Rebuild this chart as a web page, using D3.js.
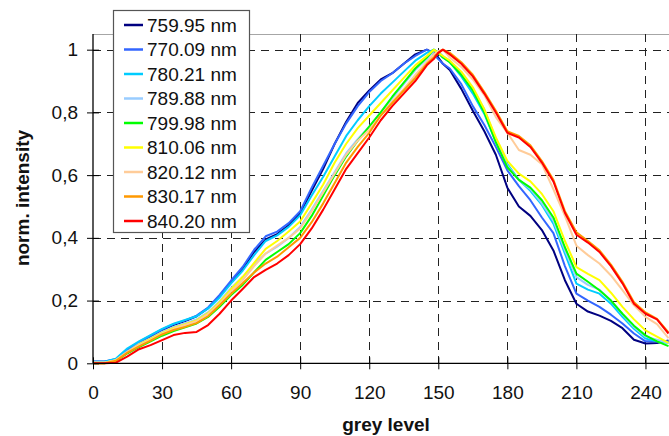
<!DOCTYPE html>
<html>
<head>
<meta charset="utf-8">
<script src="https://cdn.jsdelivr.net/npm/d3@7"></script>
<style>
   body { margin: 0; background: #fff; }
   svg { display: block; font-family: "Liberation Sans", Arial, sans-serif; }
</style>
</head>
<body>
<div id="chart"></div>
<script>
// grey level samples (x axis)
const greyLevels = [0, 5, 10, 15, 20, 25, 30, 35, 40, 45, 50, 55, 60, 65, 70, 75, 80, 85, 90, 95,
   100, 105, 110, 115, 120, 125, 130, 135, 140, 145, 148, 150, 152, 155, 160, 165, 170, 175, 180,
   185, 190, 195, 200, 205, 210, 215, 220, 225, 230, 235, 240, 245, 250];

const seriesNames = ["759.95 nm", "770.09 nm", "780.21 nm", "789.88 nm", "799.98 nm",
   "810.06 nm", "820.12 nm", "830.17 nm", "840.20 nm"];
const seriesColors = ["#000080", "#3366ff", "#00ccff", "#99ccff", "#00ff00",
   "#ffff00", "#ffcc99", "#ff9900", "#ff0000"];

const xTicks = [0, 30, 60, 90, 120, 150, 180, 210, 240];
const yTicks = [0, 0.2, 0.4, 0.6, 0.8, 1];
const yTickLabels = ["0", "0,2", "0,4", "0,6", "0,8", "1"];

// normalised intensity per wavelength
const int759 = [0.005, 0.005, 0.012, 0.04, 0.065, 0.085, 0.105, 0.122, 0.135, 0.15, 0.176, 0.214, 0.258, 0.3, 0.355, 0.395, 0.412, 0.44, 0.478, 0.55,
   0.62, 0.7, 0.77, 0.83, 0.87, 0.905, 0.925, 0.955, 0.985, 1.0, 0.99, 0.975, 0.955, 0.935, 0.875, 0.805, 0.74, 0.665, 0.56,
   0.5, 0.47, 0.425, 0.36, 0.265, 0.19, 0.165, 0.152, 0.135, 0.112, 0.075, 0.063, 0.065, 0.073];
const int770 = [0.006, 0.006, 0.014, 0.045, 0.068, 0.088, 0.108, 0.125, 0.137, 0.152, 0.178, 0.218, 0.264, 0.307, 0.362, 0.405, 0.42, 0.447, 0.485, 0.56,
   0.63, 0.7, 0.765, 0.82, 0.865, 0.9, 0.925, 0.955, 0.98, 1.0, 0.985, 0.97, 0.955, 0.94, 0.89, 0.82, 0.76, 0.69, 0.615,
   0.565, 0.52, 0.465, 0.415, 0.31, 0.222, 0.2, 0.18, 0.155, 0.127, 0.095, 0.07, 0.07, 0.07];
const int780 = [0.005, 0.005, 0.015, 0.048, 0.07, 0.09, 0.11, 0.126, 0.138, 0.15, 0.175, 0.21, 0.255, 0.295, 0.345, 0.39, 0.408, 0.435, 0.472, 0.535,
   0.595, 0.66, 0.725, 0.775, 0.82, 0.86, 0.895, 0.93, 0.965, 0.99, 1.0, 0.99, 0.975, 0.96, 0.915, 0.86, 0.795, 0.705, 0.635,
   0.585, 0.55, 0.505, 0.445, 0.35, 0.254, 0.235, 0.222, 0.19, 0.148, 0.11, 0.079, 0.07, 0.065];
const int789 = [0.003, 0.003, 0.01, 0.038, 0.062, 0.08, 0.1, 0.116, 0.128, 0.14, 0.163, 0.198, 0.24, 0.275, 0.315, 0.35, 0.372, 0.4, 0.435, 0.49,
   0.55, 0.61, 0.67, 0.715, 0.755, 0.8, 0.845, 0.89, 0.935, 0.97, 0.995, 0.995, 0.98, 0.965, 0.925, 0.875, 0.81, 0.715, 0.63,
   0.585, 0.555, 0.51, 0.455, 0.36, 0.275, 0.25, 0.235, 0.2, 0.155, 0.115, 0.085, 0.075, 0.065];
const int800 = [0.0, 0.0, 0.008, 0.032, 0.052, 0.07, 0.088, 0.103, 0.115, 0.127, 0.148, 0.18, 0.218, 0.25, 0.29, 0.33, 0.355, 0.38, 0.415, 0.47,
   0.535, 0.6, 0.66, 0.71, 0.755, 0.8, 0.85, 0.895, 0.94, 0.975, 1.0, 0.99, 0.975, 0.96, 0.92, 0.87, 0.8, 0.705, 0.625,
   0.585, 0.56, 0.52, 0.465, 0.37, 0.286, 0.26, 0.233, 0.2, 0.158, 0.12, 0.089, 0.07, 0.055];
const int810 = [0.002, 0.002, 0.01, 0.036, 0.06, 0.078, 0.097, 0.113, 0.125, 0.137, 0.16, 0.195, 0.236, 0.275, 0.32, 0.365, 0.39, 0.42, 0.452, 0.51,
   0.57, 0.64, 0.7, 0.75, 0.79, 0.83, 0.87, 0.91, 0.95, 0.98, 1.0, 0.99, 0.98, 0.965, 0.93, 0.88, 0.81, 0.72, 0.645,
   0.605, 0.58, 0.54, 0.485, 0.39, 0.307, 0.285, 0.265, 0.225, 0.18, 0.14, 0.105, 0.085, 0.065];
const int820 = [0.002, 0.002, 0.01, 0.036, 0.058, 0.075, 0.095, 0.11, 0.122, 0.134, 0.157, 0.19, 0.23, 0.265, 0.31, 0.35, 0.375, 0.4, 0.43, 0.485,
   0.545, 0.605, 0.665, 0.71, 0.745, 0.79, 0.835, 0.875, 0.92, 0.96, 0.985, 0.995, 1.0, 0.975, 0.945, 0.905, 0.855, 0.785, 0.735,
   0.68, 0.665, 0.635, 0.555, 0.47, 0.375, 0.345, 0.318, 0.28, 0.233, 0.185, 0.148, 0.125, 0.08];
const int830 = [0.0, 0.0, 0.008, 0.034, 0.054, 0.072, 0.092, 0.106, 0.116, 0.128, 0.15, 0.185, 0.222, 0.255, 0.29, 0.318, 0.34, 0.37, 0.4, 0.45,
   0.51, 0.575, 0.64, 0.69, 0.735, 0.79, 0.83, 0.87, 0.91, 0.955, 0.975, 0.99, 1.0, 0.99, 0.96, 0.92, 0.865, 0.805, 0.74,
   0.725, 0.695, 0.645, 0.585, 0.485, 0.418, 0.39, 0.36, 0.315, 0.26, 0.195, 0.162, 0.142, 0.098];
const int840 = [0.0, 0.0, 0.002, 0.022, 0.045, 0.058, 0.074, 0.09, 0.097, 0.1, 0.122, 0.158, 0.2, 0.237, 0.275, 0.298, 0.318, 0.345, 0.38, 0.43,
   0.49, 0.555, 0.62, 0.67, 0.72, 0.775, 0.82, 0.86, 0.9, 0.95, 0.97, 0.99, 1.0, 0.985, 0.955, 0.915, 0.86, 0.8, 0.735,
   0.72, 0.69, 0.64, 0.58, 0.48, 0.41, 0.385, 0.355, 0.31, 0.255, 0.19, 0.158, 0.14, 0.095];

const seriesValues = [int759, int770, int780, int789, int800, int810, int820, int830, int840];

class SpectrumChart {

   constructor(element) {
      this.Width = 669;
      this.Height = 436;
      this.Left = 93;
      this.Right = 668.5;
      this.Top = 34;
      this.Bottom = 363.3;

      this.X = d3.scaleLinear().domain([0, 250]).range([this.Left, this.Right]);
      this.Y = d3.scaleLinear().domain([0, 1.05]).range([this.Bottom, this.Top]);

      this.Svg = d3.select(element)
         .append("svg")
         .attr("width", this.Width)
         .attr("height", this.Height)
         .attr("viewBox", "0 0 " + this.Width + " " + this.Height);
   }

   DrawGrid() {
      let svg = this.Svg;

      svg.append("line")
         .attr("x1", this.Left).attr("x2", this.Width)
         .attr("y1", this.Top + 0.5).attr("y2", this.Top + 0.5)
         .attr("stroke", "#a6a6a6")
         .attr("stroke-width", 1.2);

      svg.append("g")
         .selectAll("line")
         .data(xTicks.filter(d => d > 0))
         .enter()
         .append("line")
         .attr("x1", d => Math.round(this.X(d)) + 0.5)
         .attr("x2", d => Math.round(this.X(d)) + 0.5)
         .attr("y1", this.Top)
         .attr("y2", this.Bottom)
         .attr("stroke", "#222")
         .attr("stroke-dasharray", "8,6");

      svg.append("g")
         .selectAll("line")
         .data(yTicks.filter(d => d > 0))
         .enter()
         .append("line")
         .attr("x1", this.Left)
         .attr("x2", this.Width)
         .attr("y1", d => Math.round(this.Y(d)) + 0.5)
         .attr("y2", d => Math.round(this.Y(d)) + 0.5)
         .attr("stroke", "#222")
         .attr("stroke-dasharray", "8,6");
   }

   DrawAxes() {
      let svg = this.Svg;

      let xAxis = svg.append("g")
         .attr("transform", "translate(0," + this.Bottom + ")")
         .call(d3.axisBottom(this.X).tickValues(xTicks).tickSizeInner(6).tickSizeOuter(0).tickPadding(16));
      xAxis.select(".domain").attr("stroke", "#000").attr("stroke-width", 1.3)
         .attr("d", "M" + this.Left + ",0H" + this.Width);
      xAxis.selectAll(".tick line").attr("y1", -6).attr("stroke", "#000");
      xAxis.selectAll(".tick text")
         .attr("font-size", "19px")
         .attr("fill", "#111")
         .attr("font-family", "Liberation Sans, Arial, sans-serif");

      let yAxis = svg.append("g")
         .attr("transform", "translate(" + this.Left + ",0)")
         .call(d3.axisLeft(this.Y).tickValues(yTicks).tickFormat((d, i) => yTickLabels[i])
            .tickSizeInner(6).tickSizeOuter(0).tickPadding(9));
      yAxis.select(".domain").attr("stroke", "#000").attr("stroke-width", 1.3)
         .attr("d", "M0," + this.Top + "V" + this.Bottom);
      yAxis.selectAll(".tick line").attr("x2", 6).attr("x1", -6).attr("stroke", "#000");
      yAxis.selectAll(".tick text")
         .attr("font-size", "19px")
         .attr("fill", "#111")
         .attr("font-family", "Liberation Sans, Arial, sans-serif");

      svg.append("text")
         .attr("x", 386)
         .attr("y", 431)
         .attr("text-anchor", "middle")
         .attr("font-size", "19px")
         .attr("font-weight", "bold")
         .attr("fill", "#111")
         .text("grey level");

      svg.append("text")
         .attr("transform", "translate(29,198) rotate(-90)")
         .attr("text-anchor", "middle")
         .attr("font-size", "19px")
         .attr("font-weight", "bold")
         .attr("fill", "#111")
         .text("norm. intensity");
   }

   DrawLines() {
      let line = d3.line()
         .x((d, i) => this.X(greyLevels[i]))
         .y(d => this.Y(d));

      this.Svg.append("g")
         .selectAll("path")
         .data(seriesValues)
         .enter()
         .append("path")
         .attr("d", d => line(d))
         .attr("fill", "none")
         .attr("stroke", (d, i) => seriesColors[i])
         .attr("stroke-width", 2)
         .attr("stroke-linejoin", "round");
   }

   DrawLegend() {
      let legend = this.Svg.append("g");

      legend.append("rect")
         .attr("x", 113.5)
         .attr("y", 10.5)
         .attr("width", 136)
         .attr("height", 222)
         .attr("fill", "#fff")
         .attr("stroke", "#555")
         .attr("stroke-width", 1.2);

      let item = legend.selectAll(".item")
         .data(seriesNames)
         .enter()
         .append("g")
         .attr("class", "item")
         .attr("transform", (d, i) => "translate(0," + (25 + i * 24.5) + ")");

      item.append("line")
         .attr("x1", 124).attr("x2", 143)
         .attr("y1", 0).attr("y2", 0)
         .attr("stroke", (d, i) => seriesColors[i])
         .attr("stroke-width", 2.5);

      item.append("text")
         .attr("x", 147)
         .attr("y", 6.8)
         .attr("font-size", "19px")
         .attr("fill", "#111")
         .text(d => d);
   }
}

let chart = new SpectrumChart("#chart");
chart.DrawGrid();
chart.DrawLines();
chart.DrawAxes();
chart.DrawLegend();
</script>
</body>
</html>
